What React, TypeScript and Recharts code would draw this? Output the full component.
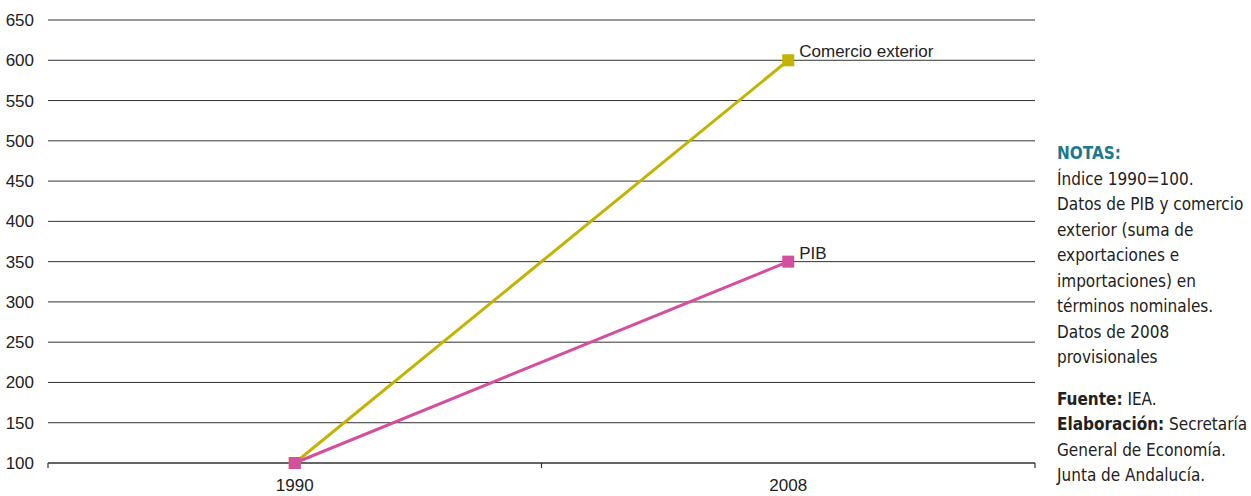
import React from 'react';
import { LineChart, Line, XAxis, YAxis, CartesianGrid } from 'recharts';

const years = ['1990', '2008'];
const comercio = [100, 600];
const pib = [100, 350];
const yTicks = [100, 150, 200, 250, 300, 350, 400, 450, 500, 550, 600, 650];
const xTicks = [0, 0.5, 1, 1.5, 2];

const data = years.map((year, i) => ({
  pos: i + 0.5,
  year,
  comercio: comercio[i],
  pib: pib[i],
}));

const textColor = '#222';
const chartFont = 'Arial, "Liberation Sans", Helvetica, sans-serif';
const noteFont = '"Liberation Sans Narrow", "DejaVu Sans Condensed", "Roboto Condensed", Roboto, sans-serif';

const SquareDot = (color: string) => (props: any) => {
  const { cx, cy, index } = props;
  if (cx == null || cy == null) return <g key={index} />;
  return <rect key={index} x={cx - 6} y={cy - 6} width={12} height={12} fill={color} />;
};

const endLabel = (name: string) => (props: any) => {
  const { x, y, index } = props;
  if (index !== years.length - 1) return null;
  return (
    <text x={x + 11} y={y - 3} fill={textColor} fontSize={17} fontFamily={chartFont}>
      {name}
    </text>
  );
};

// integer ticks = band edges (tick marks), half ticks = year labels
const XTick = (props: any) => {
  const { x, y, payload } = props;
  const v = payload.value as number;
  if (Number.isInteger(v)) {
    return <line x1={x} x2={x} y1={y - 8} y2={y - 3} stroke="#333" strokeWidth={1.2} />;
  }
  const idx = Math.floor(v);
  return (
    <text x={x} y={y + 20} textAnchor="middle" fill={textColor} fontSize={17} fontFamily={chartFont}>
      {years[idx]}
    </text>
  );
};

export default function App() {
  return (
    <div style={{ position: 'fixed', left: 0, top: 0, width: 1251, height: 496, background: '#fff' }}>
      <LineChart width={1045} height={496} data={data} margin={{ top: 20, right: 10, bottom: 3, left: 0 }}>
        <CartesianGrid vertical={false} stroke="#333" strokeWidth={1} />
        <XAxis
          dataKey="pos"
          type="number"
          domain={[0, 2]}
          ticks={xTicks}
          interval={0}
          height={30}
          tickLine={false}
          axisLine={{ stroke: '#333', strokeWidth: 1.2 }}
          tick={<XTick />}
        />
        <YAxis
          domain={[100, 650]}
          ticks={yTicks}
          width={48}
          axisLine={false}
          tickLine={false}
          tickMargin={8}
          interval={0}
          tick={{ fill: textColor, fontSize: 17, fontFamily: chartFont }}
        />
        <Line
          dataKey="comercio"
          stroke="#c2b400"
          strokeWidth={3}
          dot={SquareDot('#c2b400')}
          label={endLabel('Comercio exterior')}
          isAnimationActive={false}
        />
        <Line
          dataKey="pib"
          stroke="#d4509f"
          strokeWidth={3}
          dot={SquareDot('#d4509f')}
          label={endLabel('PIB')}
          isAnimationActive={false}
        />
      </LineChart>
      <div
        style={{
          position: 'absolute',
          left: 1057,
          top: 141,
          width: 194,
          fontFamily: noteFont,
          fontSize: 17,
          lineHeight: '25.5px',
          color: textColor,
        }}
      >
        <div style={{ color: '#1b7a8e', fontWeight: 'bold' }}>NOTAS:</div>
        <div>
          Índice 1990=100.
          <br />
          Datos de PIB y comercio
          <br />
          exterior (suma de
          <br />
          exportaciones e
          <br />
          importaciones) en
          <br />
          términos nominales.
          <br />
          Datos de 2008
          <br />
          provisionales
        </div>
        <div style={{ marginTop: 16 }}>
          <b>Fuente:</b> IEA.
          <br />
          <b>Elaboración:</b> Secretaría
          <br />
          General de Economía.
          <br />
          Junta de Andalucía.
        </div>
      </div>
    </div>
  );
}
